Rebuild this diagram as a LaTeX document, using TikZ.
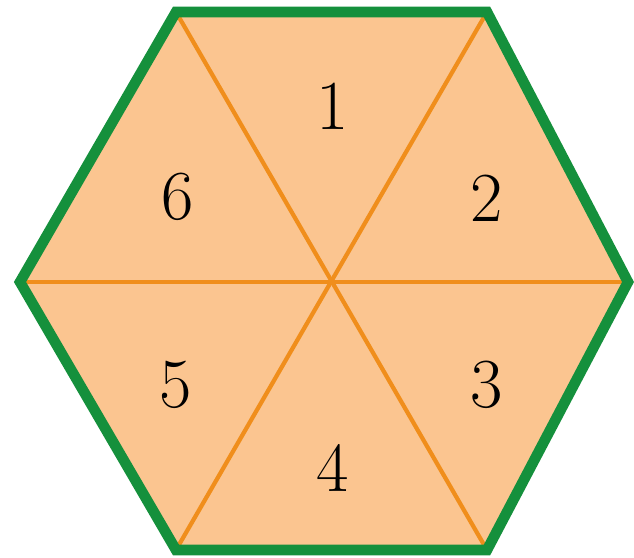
\documentclass[tikz,border=0pt]{standalone}
\usepackage{tikz}
\definecolor{hexfill}{HTML}{FBC590}
\definecolor{hexline}{HTML}{F08E1C}
\definecolor{hexrim}{HTML}{15903C}
\tikzset{num/.style={font=\fontsize{50}{54}\selectfont,text=black}}

\begin{document}
\begin{tikzpicture}[x=0.025cm,y=-0.025cm]
	 \useasboundingbox(0,0)rectangle(634,558);
	 \coordinate(O)at(331,282);
	 \coordinate(A)at(176,12);\coordinate(B)at(487,12);\coordinate(C)at(628,282);
	 \coordinate(D)at(487,550);\coordinate(E)at(176,550);\coordinate(F)at(20,282);
	 \fill[hexfill](A)--(B)--(C)--(D)--(E)--(F)--cycle;
	 \draw[hexline,line width=3pt](A)--(D);
	 \draw[hexline,line width=3pt](B)--(E);
	 \draw[hexline,line width=3pt](F)--(C);
	 \draw[hexrim,line width=7.5pt,line join=miter](A)--(B)--(C)--(D)--(E)--(F)--cycle;
	 \node[num](n1)at(333,106){1};
	 \node[num](n2)at(487,198){2};
	 \node[num](n3)at(487,385){3};
	 \node[num](n4)at(333,468){4};
	 \node[num](n5)at(176,385){5};
	 \node[num](n6)at(178,197){6};
	\end{tikzpicture}
\end{document}
